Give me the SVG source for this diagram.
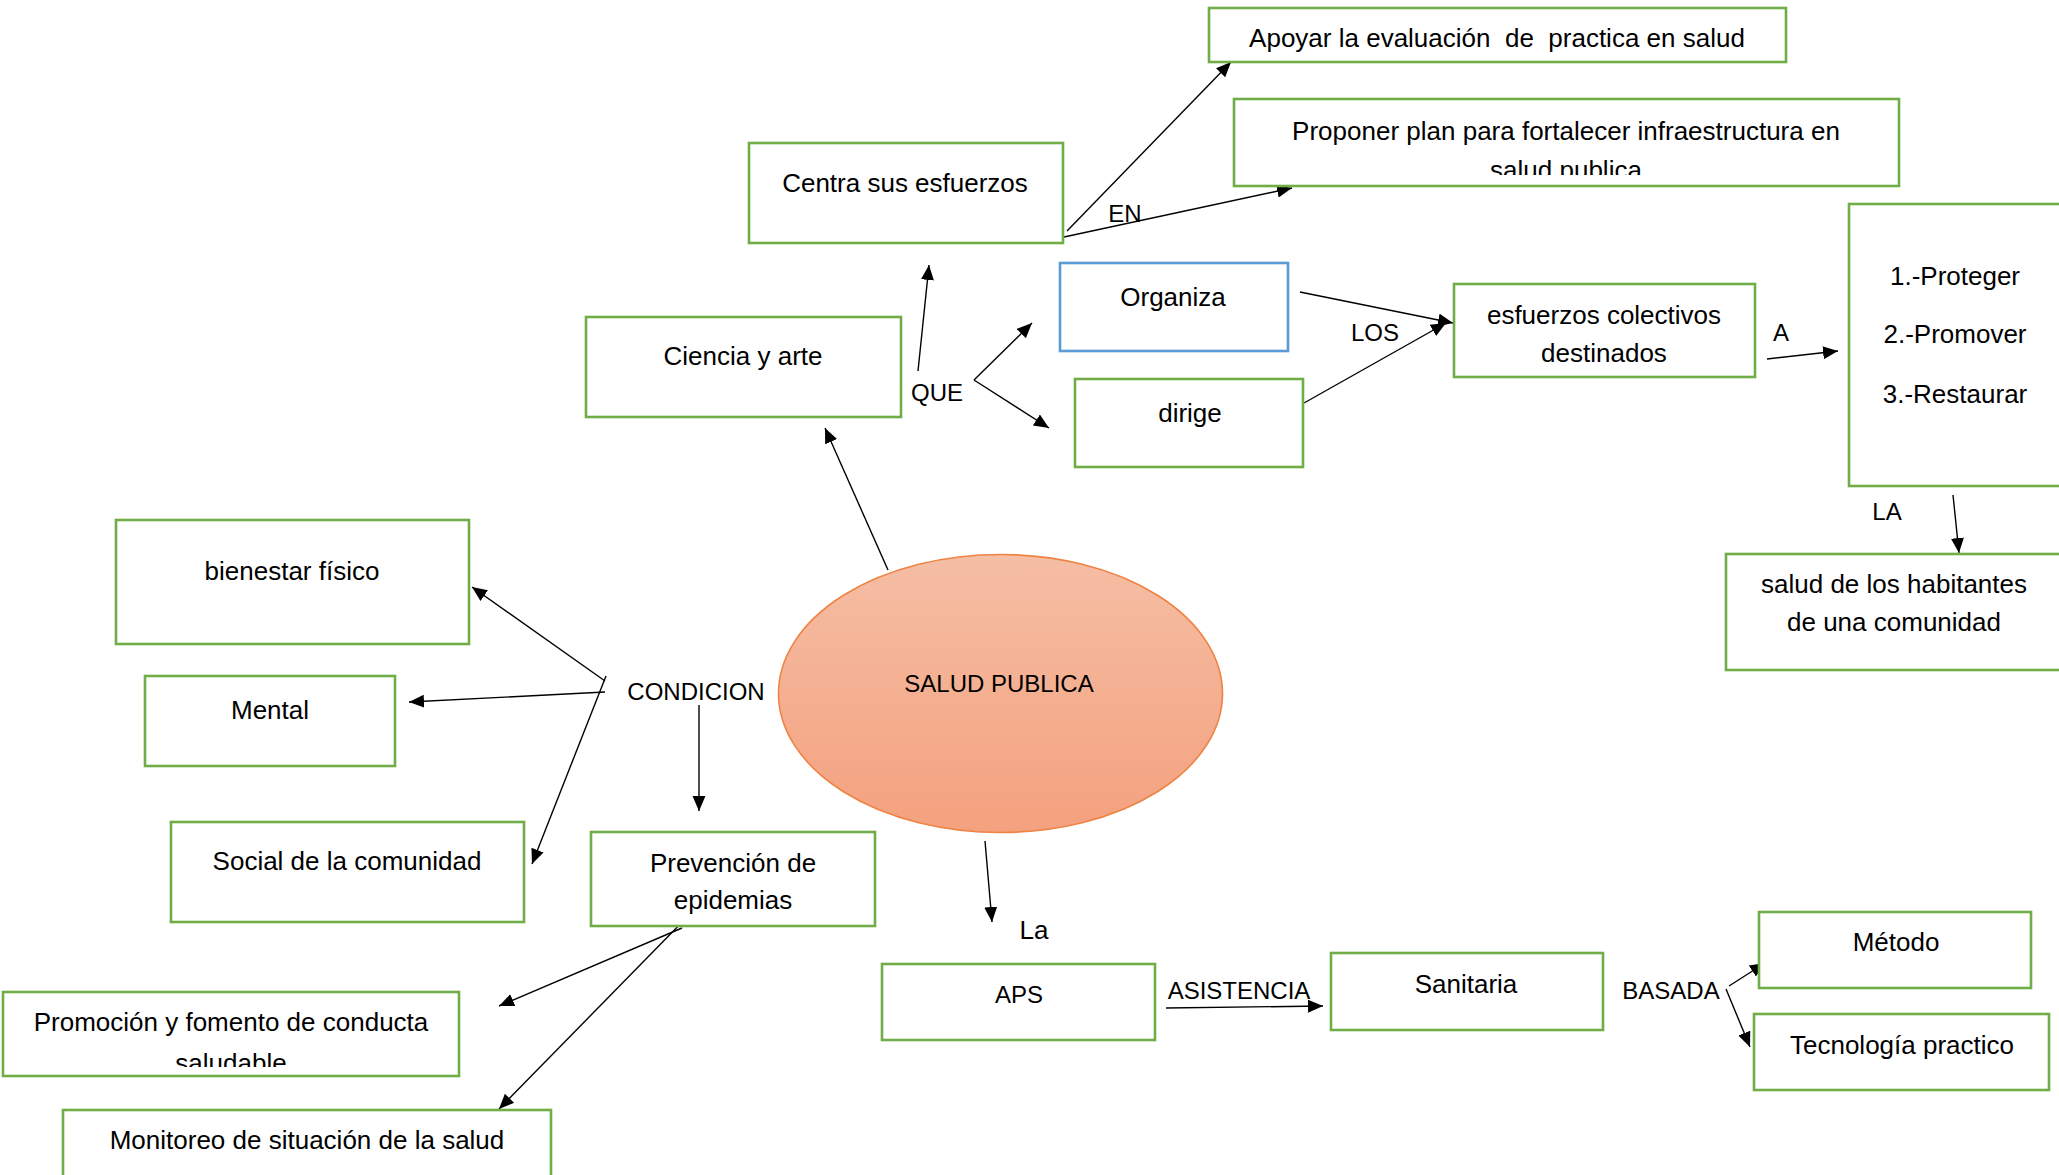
<svg xmlns="http://www.w3.org/2000/svg" width="2059" height="1175" viewBox="0 0 2059 1175">
<style>
.box{fill:#fff;stroke:#70AD47;stroke-width:2.6}
.blue{fill:#fff;stroke:#5B9BD5;stroke-width:2.6}
.t{font-family:"Liberation Sans",Arial,sans-serif;font-size:26px;fill:#000;text-anchor:middle}
.c{font-family:"Liberation Sans",Arial,sans-serif;font-size:24px;fill:#000;text-anchor:middle}
.ln{stroke:#000;stroke-width:1.4;fill:none;marker-end:url(#ah)}
</style>
<defs>
<marker id="ah" markerUnits="userSpaceOnUse" markerWidth="16" markerHeight="14" refX="15" refY="6.5" orient="auto">
<path d="M0,0 L15,6.5 L0,13 z" fill="#000"/>
</marker>
<linearGradient id="eg" x1="0" y1="0" x2="0" y2="1">
<stop offset="0" stop-color="#F5BEA5"/>
<stop offset="1" stop-color="#F4A17E"/>
</linearGradient>
<clipPath id="cp1"><rect x="1234" y="99" width="665" height="76"/></clipPath>
<clipPath id="cp2"><rect x="3" y="992" width="456" height="75"/></clipPath>
</defs>
<rect width="2059" height="1175" fill="#fff"/>

<g id="connectors">
<line class="ln" x1="1067" y1="231" x2="1231" y2="62"/>
<line class="ln" x1="1064" y1="237" x2="1292" y2="188"/>
<line class="ln" x1="918" y1="371" x2="929" y2="265"/>
<line class="ln" x1="974" y1="380" x2="1032" y2="323"/>
<line class="ln" x1="974" y1="380" x2="1049" y2="428"/>
<line class="ln" x1="1300" y1="292" x2="1453" y2="323"/>
<line class="ln" x1="1304" y1="403" x2="1446" y2="323"/>
<line class="ln" x1="1767" y1="359" x2="1838" y2="351"/>
<line class="ln" x1="1953" y1="495" x2="1959" y2="553"/>
<line class="ln" x1="888" y1="570" x2="825" y2="428"/>
<line class="ln" x1="605" y1="681" x2="472" y2="587"/>
<line class="ln" x1="605" y1="692" x2="409" y2="702"/>
<line class="ln" x1="606" y1="676" x2="532" y2="864"/>
<line class="ln" x1="699" y1="705" x2="699" y2="811"/>
<line class="ln" x1="682" y1="928" x2="499" y2="1006"/>
<line class="ln" x1="692" y1="912" x2="499" y2="1109"/>
<line class="ln" x1="985" y1="841" x2="992" y2="922"/>
<line class="ln" x1="1166" y1="1008" x2="1323" y2="1006"/>
<line class="ln" x1="1729" y1="986" x2="1765" y2="963"/>
<line class="ln" x1="1726" y1="989" x2="1750" y2="1047"/>
</g>

<g id="labels">
<text class="c" x="1125" y="222">EN</text>
<text class="c" x="937" y="401">QUE</text>
<text class="c" x="1375" y="341">LOS</text>
<text class="c" x="1781" y="341">A</text>
<text class="c" x="1887" y="520">LA</text>
<text class="c" x="696" y="700">CONDICION</text>
<text class="t" x="1034" y="939">La</text>
<text class="c" x="1239" y="999">ASISTENCIA</text>
<text class="c" x="1671" y="999">BASADA</text>
</g>

<g id="salud-publica">
<ellipse cx="1000.5" cy="693.5" rx="222" ry="139" fill="url(#eg)" stroke="#EE8344" stroke-width="1.6"/>
<text class="c" x="999" y="692">SALUD PUBLICA</text>
</g>

<g id="apoyar">
<rect class="box" x="1209" y="8" width="577" height="54"/>
<text class="t" x="1497" y="47" xml:space="preserve" style="white-space:pre">Apoyar la evaluación  de  practica en salud</text>
</g>
<g id="proponer">
<rect class="box" x="1234" y="99" width="665" height="87"/>
<g clip-path="url(#cp1)">
<text class="t" x="1566" y="140">Proponer plan para fortalecer infraestructura en</text>
<text class="t" x="1566" y="179">salud publica</text>
</g>
</g>
<g id="centra">
<rect class="box" x="749" y="143" width="314" height="100"/>
<text class="t" x="905" y="192">Centra sus esfuerzos</text>
</g>
<g id="organiza">
<rect class="blue" x="1060" y="263" width="228" height="88"/>
<text class="t" x="1173" y="306">Organiza</text>
</g>
<g id="dirige">
<rect class="box" x="1075" y="379" width="228" height="88"/>
<text class="t" x="1190" y="422">dirige</text>
</g>
<g id="esfuerzos">
<rect class="box" x="1454" y="284" width="301" height="93"/>
<text class="t" x="1604" y="324">esfuerzos colectivos</text>
<text class="t" x="1604" y="362">destinados</text>
</g>
<g id="proteger">
<rect class="box" x="1849" y="204" width="240" height="282"/>
<text class="t" x="1955" y="285">1.-Proteger</text>
<text class="t" x="1955" y="343">2.-Promover</text>
<text class="t" x="1955" y="403">3.-Restaurar</text>
</g>
<g id="ciencia">
<rect class="box" x="586" y="317" width="315" height="100"/>
<text class="t" x="743" y="365">Ciencia y arte</text>
</g>
<g id="habitantes">
<rect class="box" x="1726" y="554" width="360" height="116"/>
<text class="t" x="1894" y="593">salud de los habitantes</text>
<text class="t" x="1894" y="631">de una comunidad</text>
</g>
<g id="bienestar">
<rect class="box" x="116" y="520" width="353" height="124"/>
<text class="t" x="292" y="580">bienestar físico</text>
</g>
<g id="mental">
<rect class="box" x="145" y="676" width="250" height="90"/>
<text class="t" x="270" y="719">Mental</text>
</g>
<g id="social">
<rect class="box" x="171" y="822" width="353" height="100"/>
<text class="t" x="347" y="870">Social de la comunidad</text>
</g>
<g id="prevencion">
<rect class="box" x="591" y="832" width="284" height="94"/>
<text class="t" x="733" y="872">Prevención de</text>
<text class="t" x="733" y="909">epidemias</text>
</g>
<g id="promocion">
<rect class="box" x="3" y="992" width="456" height="84"/>
<g clip-path="url(#cp2)">
<text class="t" x="231" y="1031">Promoción y fomento de conducta</text>
<text class="t" x="231" y="1072">saludable</text>
</g>
</g>
<g id="monitoreo">
<rect class="box" x="63" y="1110" width="488" height="80"/>
<text class="t" x="307" y="1149">Monitoreo de situación de la salud</text>
</g>
<g id="aps">
<rect class="box" x="882" y="964" width="273" height="76"/>
<text class="c" x="1019" y="1003">APS</text>
</g>
<g id="sanitaria">
<rect class="box" x="1331" y="953" width="272" height="77"/>
<text class="t" x="1466" y="993">Sanitaria</text>
</g>
<g id="metodo">
<rect class="box" x="1759" y="912" width="272" height="76"/>
<text class="t" x="1896" y="951">Método</text>
</g>
<g id="tecnologia">
<rect class="box" x="1754" y="1014" width="295" height="76"/>
<text class="t" x="1902" y="1054">Tecnología practico</text>
</g>
</svg>
